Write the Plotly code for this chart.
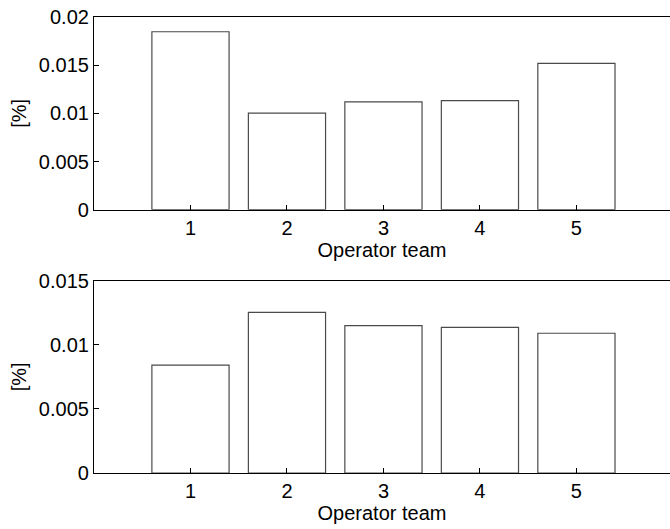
import plotly.graph_objects as go

teams = [1, 2, 3, 4, 5]
top_values = [0.01847, 0.01002, 0.0112, 0.01133, 0.01518]
bottom_values = [0.00842, 0.01253, 0.01149, 0.01136, 0.0109]
top_ticks = [0, 0.005, 0.01, 0.015, 0.02]
top_tick_labels = ["0", "0.005", "0.01", "0.015", "0.02"]
bottom_ticks = [0, 0.005, 0.01, 0.015]
bottom_tick_labels = ["0", "0.005", "0.01", "0.015"]
x_label = "Operator team"
y_label = "[%]"

FONT = dict(family="Liberation Sans, Arial, Helvetica, sans-serif", size=20, color="black")
BAR_STYLE = dict(width=0.8, marker=dict(color="white", line=dict(color="#4a4a4a", width=1.2)),
                 showlegend=False, hoverinfo="x+y")

fig = go.Figure()
fig.add_trace(go.Bar(x=teams, y=top_values, xaxis="x", yaxis="y", **BAR_STYLE))
fig.add_trace(go.Bar(x=teams, y=bottom_values, xaxis="x2", yaxis="y2", **BAR_STYLE))

common_x = dict(range=[0, 5.97], tickvals=teams, ticks="inside", ticklen=5, tickcolor="black",
                showline=True, linecolor="black", linewidth=1.2, mirror=True, showgrid=False,
                zeroline=False, tickfont=FONT,
                title=dict(text=x_label, font=FONT, standoff=4))
common_y = dict(ticks="inside", ticklen=5, tickcolor="black", showline=True, linecolor="black",
                linewidth=1.2, mirror=True, showgrid=False, zeroline=False, tickfont=FONT,
                title=dict(text=y_label, font=FONT, standoff=6))

fig.update_layout(
    width=670, height=529,
    margin=dict(l=94, r=0, t=17, b=56),
    paper_bgcolor="white", plot_bgcolor="white",
    font=FONT,
    bargap=0.2,
    xaxis=dict(domain=[0, 1], anchor="y", **common_x),
    yaxis=dict(domain=[0.5774, 1], anchor="x", range=[0, 0.02],
               tickvals=top_ticks, ticktext=top_tick_labels, **common_y),
    xaxis2=dict(domain=[0, 1], anchor="y2", **common_x),
    yaxis2=dict(domain=[0, 0.4217], anchor="x2", range=[0, 0.015],
                tickvals=bottom_ticks, ticktext=bottom_tick_labels, **common_y),
)

fig.write_html("out.html")
